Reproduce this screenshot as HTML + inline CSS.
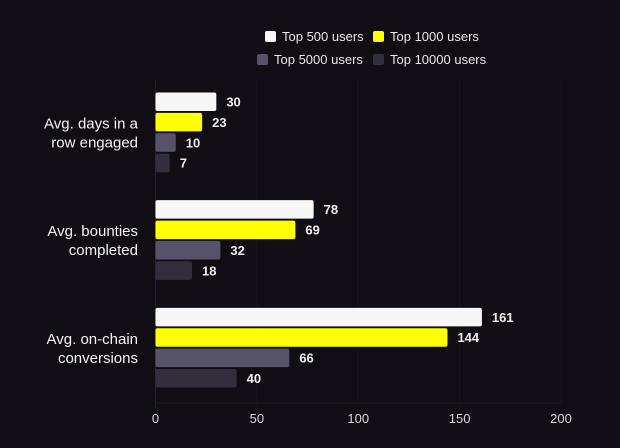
<!DOCTYPE html>
<html><head><meta charset="utf-8"><style>
body{margin:0;background:#100e14;}
svg{display:block;font-family:"Liberation Sans",sans-serif;}
</style></head><body>
<svg id="c" width="620" height="448">
<rect width="620" height="448" fill="#100e14"/>
<g id="legend"></g>
<g id="grid"></g>
<g id="bars"></g>
<g id="labels"></g>
</svg>
<script>
const categories=[["Avg. days in a","row engaged"],["Avg. bounties","completed"],["Avg. on-chain","conversions"]];
const seriesNames=["Top 500 users","Top 1000 users","Top 5000 users","Top 10000 users"];
const top500=[30,78,161];
const top1000=[23,69,144];
const top5000=[10,32,66];
const top10000=[7,18,40];
const xTicks=[0,50,100,150,200];
const series=[top500,top1000,top5000,top10000];
const colors=["#f7f7f7","#ffff00","#55526a","#322e3e"];
const NS="http://www.w3.org/2000/svg";
const x0=155.5,x1=561,yTop=80,yBot=403;
const xs=v=>x0+(v-0)/(200-0)*(x1-x0);
const band=(yBot-yTop)/categories.length;
function mk(t,a,p){const e=document.createElementNS(NS,t);for(const k in a)e.setAttribute(k,a[k]);p.appendChild(e);return e;}
const grid=document.getElementById('grid'),bars=document.getElementById('bars'),labels=document.getElementById('labels'),legend=document.getElementById('legend');
xTicks.forEach(t=>{
 const l=mk('line',{x1:xs(t),x2:xs(t),y1:yTop,y2:t===0?yBot+6:yBot,stroke:t===0?'#26242c':'#18161d','stroke-width':1},grid);
 
 
 const tx=mk('text',{x:xs(t),y:423,'text-anchor':'middle',fill:'#d8d8dc','font-size':13},grid);
 tx.textContent=t;
 
 
});
const bl=mk('line',{x1:x0,x2:x1,y1:yBot,y2:yBot,stroke:'#1a181f'},grid);


categories.forEach((cat,i)=>{
 const bs=yTop+band*i+12.5;
 series.forEach((s,j)=>{
  const y=bs+j*20.4, v=s[i];
  const r=mk('rect',{x:x0,y:y,width:xs(v)-x0,height:18.5,rx:2,fill:colors[j]},bars);
  
  
  const t=mk('text',{x:xs(v)+10,y:y+14,fill:'#f0f0f0','font-size':13,'font-weight':'bold'},bars);
  t.textContent=v;
  
  
 });
 const cy=bs+40;
 cat.forEach((ln,k)=>{
  const t=mk('text',{x:138,y:cy-4+k*19,'text-anchor':'end',fill:'#f4f4f6','font-size':15},labels);
  t.textContent=ln;
  
  
 });
});
const lpos=[[265,31],[373,31],[257,54],[373,54]];
seriesNames.forEach((n,j)=>{
 const [lx,ly]=lpos[j];
 const r=mk('rect',{x:lx,y:ly,width:11,height:11,rx:2,fill:colors[j]},legend);
 
 
 const t=mk('text',{x:lx+17,y:ly+10,fill:'#e8e8ea','font-size':13},legend);
 t.textContent=n;
 
 
});
</script>
</body></html>
